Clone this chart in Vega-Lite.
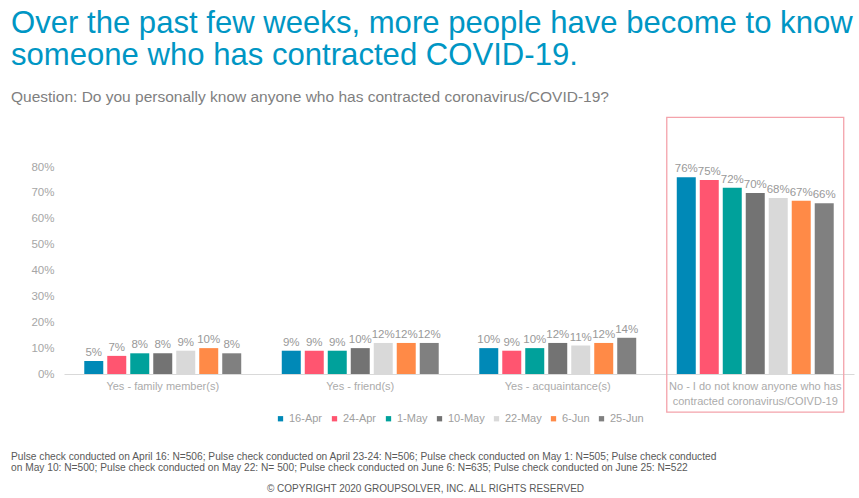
{
  "$schema": "https://vega.github.io/schema/vega-lite/v6.json",
  "background": "white",
  "padding": {"left": 10, "top": 8, "right": 4, "bottom": 4},
  "config": {
    "view": {"stroke": null},
    "font": "Liberation Sans",
    "concat": {"spacing": 0},
    "legend": {"layout": {"bottom": {"anchor": "middle"}}},
    "axisX": {
      "title": null,
      "labelAngle": 0,
      "labelColor": "#ABABAB",
      "labelFontSize": 11,
      "labelFont": "Liberation Sans",
      "labelLimit": 0,
      "labelPadding": 6,
      "labelLineHeight": 15,
      "ticks": false,
      "domainColor": "#D9D9D9",
      "grid": false
    },
    "axisY": {
      "title": null,
      "labelOverlap": false,
      "domain": false,
      "ticks": false,
      "grid": false,
      "labelColor": "#A6A6A6",
      "labelFontSize": 11.5,
      "labelFont": "Liberation Sans",
      "labelPadding": 10
    }
  },
  "resolve": {"legend": {"color": "independent"}},
  "title": {
    "text": ["Over the past few weeks, more people have become to know", "someone who has contracted COVID-19."],
    "subtitle": "Question: Do you personally know anyone who has contracted coronavirus/COVID-19?",
    "anchor": "start",
    "frame": "bounds",
    "font": "Liberation Sans",
    "fontSize": 31.1,
    "fontWeight": "normal",
    "color": "#0096C4",
    "lineHeight": 32,
    "subtitleFont": "Liberation Sans",
    "subtitleFontSize": 15.5,
    "subtitleColor": "#7F7F7F",
    "subtitlePadding": 19,
    "offset": 11
  },
  "vconcat": [
    {
      "resolve": {"legend": {"color": "independent"}},
      "title": {
        "text": "© COPYRIGHT 2020 GROUPSOLVER, INC. ALL RIGHTS RESERVED",
        "orient": "bottom",
        "anchor": "middle",
        "frame": "bounds",
        "dx": -7,
        "font": "Liberation Sans",
        "fontSize": 10,
        "fontWeight": "normal",
        "color": "#595959",
        "offset": 11
      },
      "vconcat": [
        {
          "title": {
            "text": [
              "Pulse check conducted on April 16: N=506; Pulse check conducted on April 23-24: N=506; Pulse check conducted on May 1: N=505; Pulse check conducted",
              "on May 10: N=500; Pulse check conducted on May 22: N= 500; Pulse check conducted on June 6: N=635; Pulse check conducted on June 25: N=522"
            ],
            "orient": "bottom",
            "anchor": "start",
            "frame": "bounds",
            "dx": -20,
            "font": "Liberation Sans",
            "fontSize": 10.2,
            "fontWeight": "normal",
            "color": "#595959",
            "lineHeight": 10.5,
            "offset": 28
          },
          "width": 790,
          "height": 207,
          "data": {
            "values": [
              {"category": "Yes - family member(s)", "date": "16-Apr", "value": 0.05},
              {"category": "Yes - family member(s)", "date": "24-Apr", "value": 0.07},
              {"category": "Yes - family member(s)", "date": "1-May", "value": 0.08},
              {"category": "Yes - family member(s)", "date": "10-May", "value": 0.08},
              {"category": "Yes - family member(s)", "date": "22-May", "value": 0.09},
              {"category": "Yes - family member(s)", "date": "6-Jun", "value": 0.10},
              {"category": "Yes - family member(s)", "date": "25-Jun", "value": 0.08},
              {"category": "Yes - friend(s)", "date": "16-Apr", "value": 0.09},
              {"category": "Yes - friend(s)", "date": "24-Apr", "value": 0.09},
              {"category": "Yes - friend(s)", "date": "1-May", "value": 0.09},
              {"category": "Yes - friend(s)", "date": "10-May", "value": 0.10},
              {"category": "Yes - friend(s)", "date": "22-May", "value": 0.12},
              {"category": "Yes - friend(s)", "date": "6-Jun", "value": 0.12},
              {"category": "Yes - friend(s)", "date": "25-Jun", "value": 0.12},
              {"category": "Yes - acquaintance(s)", "date": "16-Apr", "value": 0.10},
              {"category": "Yes - acquaintance(s)", "date": "24-Apr", "value": 0.09},
              {"category": "Yes - acquaintance(s)", "date": "1-May", "value": 0.10},
              {"category": "Yes - acquaintance(s)", "date": "10-May", "value": 0.12},
              {"category": "Yes - acquaintance(s)", "date": "22-May", "value": 0.11},
              {"category": "Yes - acquaintance(s)", "date": "6-Jun", "value": 0.12},
              {"category": "Yes - acquaintance(s)", "date": "25-Jun", "value": 0.14},
              {"category": "No - I do not know anyone who has contracted coronavirus/COIVD-19", "date": "16-Apr", "value": 0.76},
              {"category": "No - I do not know anyone who has contracted coronavirus/COIVD-19", "date": "24-Apr", "value": 0.75},
              {"category": "No - I do not know anyone who has contracted coronavirus/COIVD-19", "date": "1-May", "value": 0.72},
              {"category": "No - I do not know anyone who has contracted coronavirus/COIVD-19", "date": "10-May", "value": 0.70},
              {"category": "No - I do not know anyone who has contracted coronavirus/COIVD-19", "date": "22-May", "value": 0.68},
              {"category": "No - I do not know anyone who has contracted coronavirus/COIVD-19", "date": "6-Jun", "value": 0.67},
              {"category": "No - I do not know anyone who has contracted coronavirus/COIVD-19", "date": "25-Jun", "value": 0.66}
            ]
          },
          "layer": [
            {
              "mark": {"type": "bar"},
              "encoding": {
                "x": {
                  "field": "category",
                  "type": "nominal",
                  "sort": null,
                  "scale": {"paddingInner": 0.104, "paddingOuter": 0.052},
                  "axis": {
                    "labelExpr": "datum.value == 'No - I do not know anyone who has contracted coronavirus/COIVD-19' ? ['No - I do not know anyone who has', 'contracted coronavirus/COIVD-19'] : datum.label"
                  }
                },
                "xOffset": {
                  "field": "date",
                  "type": "nominal",
                  "sort": ["16-Apr", "24-Apr", "1-May", "10-May", "22-May", "6-Jun", "25-Jun"],
                  "scale": {"paddingInner": 0.174, "paddingOuter": 0.435}
                },
                "y": {
                  "field": "value",
                  "type": "quantitative",
                  "scale": {"domain": [0, 0.8], "nice": false},
                  "axis": {"format": ".0%", "values": [0, 0.1, 0.2, 0.3, 0.4, 0.5, 0.6, 0.7, 0.8]}
                },
                "color": {
                  "field": "date",
                  "type": "nominal",
                  "scale": {
                    "domain": ["16-Apr", "24-Apr", "1-May", "10-May", "22-May", "6-Jun", "25-Jun"],
                    "range": ["#0089B7", "#FF5570", "#00A19B", "#737373", "#D9D9D9", "#FF8A47", "#808080"]
                  },
                  "legend": {
                    "title": null,
                    "orient": "bottom",
                    "direction": "horizontal",
                    "symbolType": "square",
                    "symbolSize": 28,
                    "symbolStrokeWidth": 0,
                    "labelColor": "#A0A0A0",
                    "labelFontSize": 11,
                    "labelFont": "Liberation Sans",
                    "labelOffset": 3,
                    "columnPadding": 6,
                    "offset": 7
                  }
                }
              }
            },
            {
              "mark": {"type": "text", "baseline": "bottom", "dy": -3, "fontSize": 11.5, "font": "Liberation Sans", "color": "#999999"},
              "encoding": {
                "x": {
                  "field": "category",
                  "type": "nominal",
                  "sort": null,
                  "axis": {
                    "labelExpr": "datum.value == 'No - I do not know anyone who has contracted coronavirus/COIVD-19' ? ['No - I do not know anyone who has', 'contracted coronavirus/COIVD-19'] : datum.label"
                  }
                },
                "xOffset": {"field": "date", "type": "nominal", "sort": ["16-Apr", "24-Apr", "1-May", "10-May", "22-May", "6-Jun", "25-Jun"]},
                "y": {
                  "field": "value",
                  "type": "quantitative",
                  "axis": {"format": ".0%", "values": [0, 0.1, 0.2, 0.3, 0.4, 0.5, 0.6, 0.7, 0.8]}
                },
                "text": {"field": "value", "type": "quantitative", "format": ".0%"}
              }
            },
            {
              "data": {"values": [{"category": "No - I do not know anyone who has contracted coronavirus/COIVD-19"}]},
              "mark": {"type": "rect", "fill": null, "stroke": "#F4A3AB", "strokeWidth": 1.3},
              "encoding": {
                "x": {
                  "field": "category",
                  "type": "nominal",
                  "sort": null,
                  "axis": {
                    "labelExpr": "datum.value == 'No - I do not know anyone who has contracted coronavirus/COIVD-19' ? ['No - I do not know anyone who has', 'contracted coronavirus/COIVD-19'] : datum.label"
                  }
                },
                "y": {
                  "datum": 0.992,
                  "type": "quantitative",
                  "axis": {"format": ".0%", "values": [0, 0.1, 0.2, 0.3, 0.4, 0.5, 0.6, 0.7, 0.8]}
                },
                "y2": {"datum": -0.147}
              }
            }
          ]
        }
      ]
    }
  ]
}
